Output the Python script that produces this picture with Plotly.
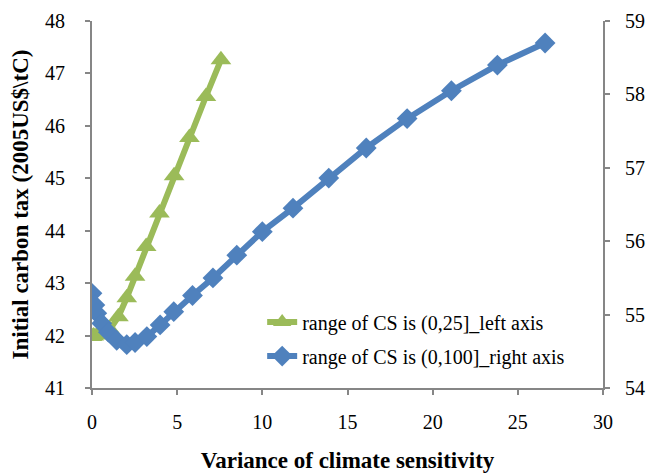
import plotly.graph_objects as go

# Green series: range of CS is (0,25] (left axis)
green_x = [0.0, 0.1, 0.3, 0.6, 1.05, 1.55, 2.04, 2.53, 3.18, 3.96, 4.82, 5.72, 6.69, 7.57]
green_y = [41.98, 41.99, 42.01, 42.05, 42.12, 42.36, 42.72, 43.13, 43.70, 44.34, 45.05, 45.78, 46.56, 47.26]

# Blue series: range of CS is (0,100] (right axis)
blue_x = [0.0, 0.17, 0.28, 0.57, 0.96, 1.45, 2.04, 2.53, 3.22, 4.0, 4.8, 5.9, 7.1, 8.5,
          10.0, 11.8, 13.9, 16.1, 18.5, 21.1, 23.8, 26.6]
blue_y = [55.29, 55.13, 55.02, 54.88, 54.76, 54.65, 54.59, 54.62, 54.70, 54.86, 55.04, 55.26,
          55.50, 55.81, 56.13, 56.45, 56.86, 57.27, 57.67, 58.05, 58.40, 58.70]

green_name = "range of CS is (0,25]_left axis"
blue_name = "range of CS is (0,100]_right axis"

GREEN = "#9BBB59"
BLUE = "#4F81BD"
AXIS = "#868686"
FONT = "Liberation Serif, Times New Roman, serif"

fig = go.Figure()
fig.add_trace(go.Scatter(
    x=blue_x, y=blue_y, name=blue_name, yaxis="y2", mode="lines+markers",
    line=dict(color=BLUE, width=6),
    marker=dict(symbol="diamond", size=16, color=BLUE),
    legend="legend2",
))
fig.add_trace(go.Scatter(
    x=green_x, y=green_y, name=green_name, yaxis="y", mode="lines+markers",
    line=dict(color=GREEN, width=6),
    marker=dict(symbol="triangle-up", size=18, color=GREEN),
    legend="legend",
))

axis_common = dict(
    showgrid=False, zeroline=False, showline=True, linecolor=AXIS, linewidth=2,
    ticks="outside", ticklen=5, tickcolor=AXIS, tickwidth=1.5, automargin=False,
    tickfont=dict(family=FONT, size=20, color="black"),
)

fig.update_layout(
    width=648, height=473,
    margin=dict(l=92, r=45, t=21, b=85),
    paper_bgcolor="white", plot_bgcolor="white",
    font=dict(family=FONT, color="black"),
    xaxis=dict(range=[0, 30], dtick=5, tick0=0,
               title=dict(text="<b>Variance of climate sensitivity</b>",
                          font=dict(family=FONT, size=23), standoff=22),
               ticklabelstandoff=10, **axis_common),
    yaxis=dict(range=[41, 48], dtick=1, tick0=41,
               title=dict(text="<b>Initial carbon tax (2005US$\\tC)</b>",
                          font=dict(family=FONT, size=23), standoff=10),
               ticklabelstandoff=16, **axis_common),
    yaxis2=dict(range=[54, 59], dtick=1, tick0=54, overlaying="y", side="right",
                ticklabelstandoff=11, **axis_common),
    legend=dict(x=0.333, y=0.18, xanchor="left", yanchor="middle",
                font=dict(family=FONT, size=20), bgcolor="rgba(0,0,0,0)"),
    legend2=dict(x=0.333, y=0.087, xanchor="left", yanchor="middle",
                 font=dict(family=FONT, size=20), bgcolor="rgba(0,0,0,0)"),
    showlegend=True,
)

fig.write_html("out.html")
